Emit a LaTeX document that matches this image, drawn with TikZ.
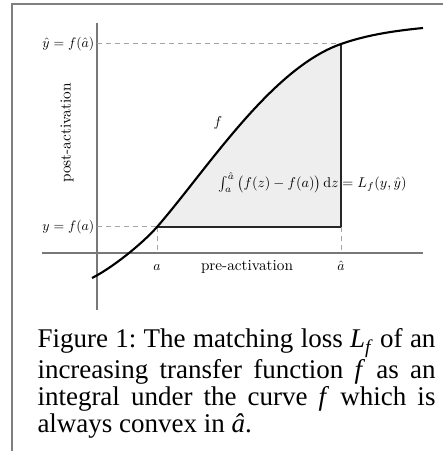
\documentclass[tikz,border=0pt]{standalone}
\usepackage{amsmath}
\usepackage{fontspec}
\newfontfamily\capfont{Liberation Serif}
\usetikzlibrary{positioning}
\definecolor{FrameGray}{RGB}{128,128,128}
\definecolor{AxisGray}{RGB}{120,120,120}
\definecolor{GuideGray}{RGB}{165,165,165}
\definecolor{AreaGray}{RGB}{238,238,238}

\begin{document}
\begin{tikzpicture}[x=0.4pt, y=-0.4pt,
    axisline/.style={AxisGray, line width=0.45pt},
    guide/.style={GuideGray, line width=0.4pt, dash pattern=on 2pt off 1.6pt},
    lbl/.style={inner sep=0pt, font=\normalsize, scale=0.61, transform shape},
    mlbl/.style={inner sep=0pt, font=\normalsize, scale=0.55, transform shape}]
  \useasboundingbox (0,0) rectangle (443,451);

  % Page frame
  \draw[FrameGray, line width=0.45pt] (12,451) -- (12,4) -- (443,4);

  % Key points on the curve
  \coordinate (O) at (97,253);
  \coordinate (A) at (157,227);
  \coordinate (Ah) at (341,44);
  \coordinate (Abase) at (341,227);

  % Shaded area under the curve
  \fill[AreaGray] (A) .. controls (207,169.5) and (271,68.5) .. (Ah) -- (Abase) -- cycle;
  \draw[line width=0.45pt, black!85] (Ah) -- (Abase) -- (A);

  % Axes
  \draw[axisline] (42,253) -- (423,253);
  \draw[axisline] (97,23) -- (97,310);

  % Guides
  \draw[guide] (97,44) -- (Ah);
  \draw[guide] (97,227) -- (A);
  \draw[guide] (A) -- (157,253);
  \draw[guide] (Abase) -- (341,253);

  % Transfer function
  \draw[line width=0.85pt] (92,278) .. controls (112,268) and (142,244) .. (A)
    .. controls (207,169.5) and (271,68.5) .. (Ah)
    .. controls (368,34.5) and (396,30.7) .. (423,28);

  % Labels
  \node[mlbl, anchor=east] (yhat) at (94.5,44) {$\hat y = f(\hat a)$};
  \node[mlbl, anchor=east] (ylab) at (94.5,227) {$y = f(a)$};
  \node[mlbl, anchor=base] (alab) at (157,270) {$a$};
  \node[mlbl, anchor=base] (ahlab) at (341,270) {$\hat a$};
  \node[lbl, anchor=base] (xlab) at (247,270) {pre-activation};
  \node[lbl, rotate=90] (ylabel) at (67,133) {post-activation};
  \node[mlbl, scale=1.04] (flab) at (218,123) {$f$};
  \node[mlbl, scale=1.03] (loss) at (312.5,183) {$\int_a^{\hat a}\big(f(z)-f(a)\big)\,\mathrm{d}z = L_f(y,\hat y)$};

  % Caption
  \node[anchor=north west, inner sep=0pt, text width=159.2pt, align=justify,
    font=\capfont\fontsize{10.8}{10.8}\selectfont] (caption) at (37,328)
    {\frenchspacing Figure 1: The matching loss \textit{L}\raisebox{-0.45ex}{\fontsize{7.8}{8}\selectfont\textit{f}} of an\linebreak
     increasing transfer function \textit{f} as an\linebreak
     integral under the curve \textit{f} which is\linebreak
     always convex in \textit{â}.};
\end{tikzpicture}
\end{document}
